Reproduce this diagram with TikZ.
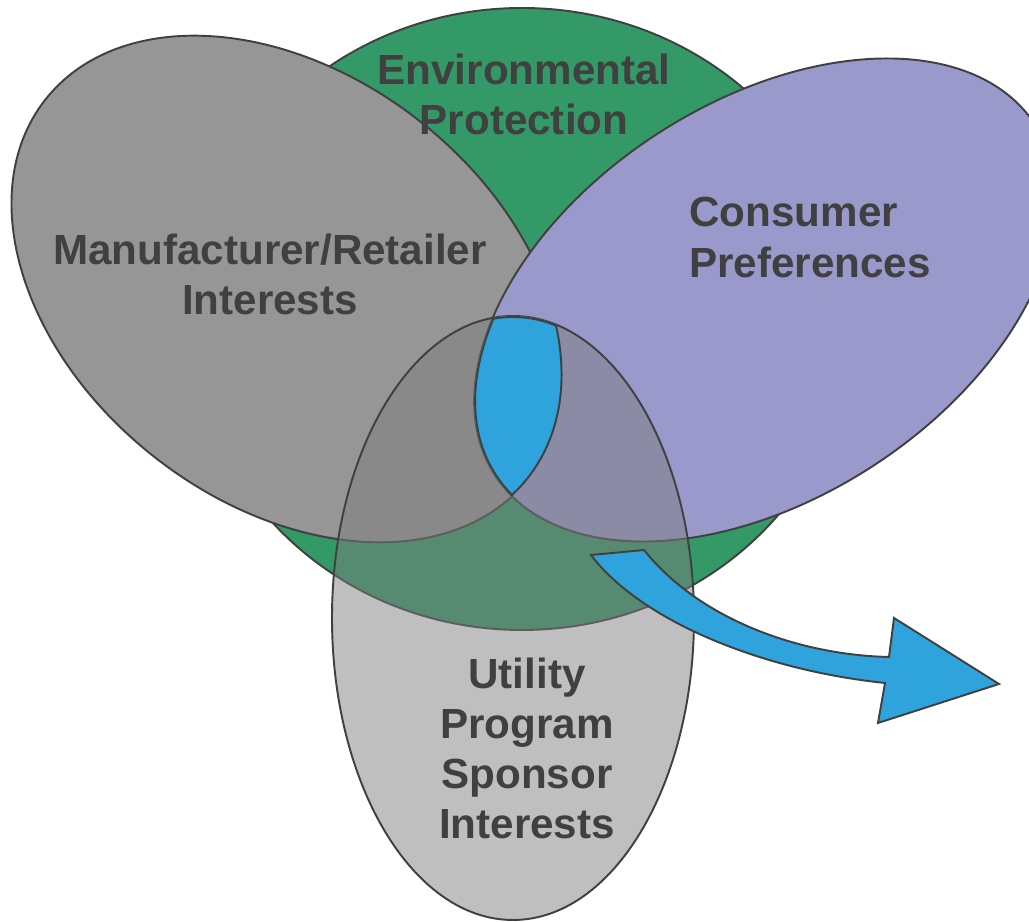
\documentclass[tikz,border=0pt]{standalone}
\usepackage{fontspec}
\setmainfont{Liberation Sans}

\definecolor{envgreen}{RGB}{51,153,102}
\definecolor{mfrgray}{RGB}{150,150,150}
\definecolor{consumerblue}{RGB}{153,153,204}
\definecolor{utilitygray}{RGB}{125,125,125}
\definecolor{lensblue}{RGB}{46,163,220}
\definecolor{linegray}{RGB}{64,64,64}

\tikzstyle{outline} = [draw=linegray, line width=1.1pt]
\tikzstyle{venntext} = [inner sep=0pt, text=linegray, font=\bfseries\fontsize{24}{28.5}\selectfont]
\tikzstyle{mfrshape} = [rotate around={-38:(287,633)}]
\tikzstyle{consumershape} = [rotate around={33:(765,622)}]

\begin{document}
\begin{tikzpicture}[x=0.02cm, y=0.02cm]
  \useasboundingbox (0,0) rectangle (1029,922);

  % the four sets
  \fill [envgreen, outline] (522,603) ellipse [x radius=330, y radius=311];
  \fill [mfrgray, outline, mfrshape] (287,633) ellipse [x radius=307, y radius=214];
  \fill [consumerblue, outline, consumershape] (765,622) ellipse [x radius=322, y radius=198];
  \fill [utilitygray, fill opacity=0.49, outline] (513,304) ellipse [x radius=181, y radius=302];

  % common part
  \begin{scope}
    \clip [mfrshape] (287,633) ellipse [x radius=307, y radius=214];
    \clip [consumershape] (765,622) ellipse [x radius=322, y radius=198];
    \clip (513,304) ellipse [x radius=181, y radius=302];
    \fill [lensblue] (513,304) ellipse [x radius=181, y radius=302];
    \draw [outline, line width=2.2pt] (513,304) ellipse [x radius=181, y radius=302];
    \draw [outline, line width=2.2pt, mfrshape] (287,633) ellipse [x radius=307, y radius=214];
    \draw [outline, line width=2.2pt, consumershape] (765,622) ellipse [x radius=322, y radius=198];
  \end{scope}

  % arrow
  \fill [lensblue, outline] (591,367) -- (644,372)
    .. controls (700,302) and (800,267) .. (889,265)
    -- (894,304) -- (999,238) -- (878,199) -- (885,239)
    .. controls (760,252) and (640,302) .. (591,367) -- cycle;

  \node (envtext) [venntext, align=center] at (524,827.5) {Environmental\\Protection};
  \node (mfrtext) [venntext, align=center] at (270,647.5) {Manufacturer/Retailer\\Interests};
  \node (consumertext) [venntext, align=left, anchor=west] at (689,684.5) {Consumer\\Preferences};
  \node (utilitytext) [venntext, align=center] at (527,173.5) {Utility\\Program\\Sponsor\\Interests};
\end{tikzpicture}
\end{document}
